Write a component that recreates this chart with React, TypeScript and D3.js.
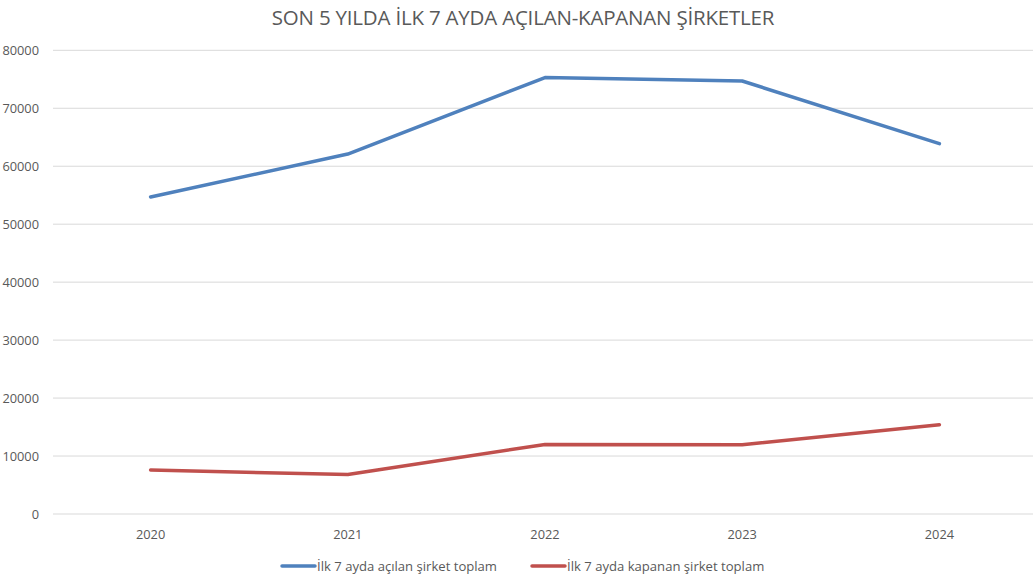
import React from "react";
import * as d3 from "d3";

const years = ["2020", "2021", "2022", "2023", "2024"];
const opened = [54700, 62100, 75300, 74700, 63900];
const closed = [7600, 6800, 12000, 11950, 15400];
const yTicks = [0, 10000, 20000, 30000, 40000, 50000, 60000, 70000, 80000];
const seriesNames = ["İlk 7 ayda açılan şirket toplam", "İlk 7 ayda kapanan şirket toplam"];
const colors = ["#4f81bd", "#c0504d"];

const W = 1033;
const H = 576;
const FONT = "'Open Sans', 'Noto Sans', sans-serif";

export default function App() {
  const x = d3.scaleBand<string>().domain(years).range([52, 1038]);
  const y = d3.scaleLinear().domain([0, 80000]).range([514, 50.3]);
  const line = d3
    .line<number>()
    .x((_, i) => (x(years[i]) as number) + x.bandwidth() / 2)
    .y((d) => y(d));
  const series = [opened, closed];
  const legendX = [282, 532];

  return (
    <svg width={W} height={H} style={{ position: "absolute", left: 0, top: 0, background: "#fff" }} fontFamily={FONT}>
      <rect width={W} height={H} fill="#fff" />
      <text x={523} y={25} textAnchor="middle" fontSize={20.5} fill="#595959" style={{ letterSpacing: "-0.2px" }}>
        SON 5 YILDA İLK 7 AYDA AÇILAN-KAPANAN ŞİRKETLER
      </text>
      {yTicks.map((t) => (
        <g key={t}>
          <line x1={53} x2={1033} y1={y(t)} y2={y(t)} stroke="#d9d9d9" strokeWidth={1} />
          <text x={39} y={y(t) + 4.5} textAnchor="end" fontSize={12.8} fill="#595959">
            {t}
          </text>
        </g>
      ))}
      {years.map((yr) => (
        <text key={yr} x={(x(yr) as number) + x.bandwidth() / 2} y={539} textAnchor="middle" fontSize={12.8} fill="#595959">
          {yr}
        </text>
      ))}
      {series.map((s, i) => (
        <path key={i} d={line(s) as string} fill="none" stroke={colors[i]} strokeWidth={3.5} strokeLinejoin="round" strokeLinecap="round" />
      ))}
      {seriesNames.map((n, i) => {
        const lx = legendX[i];
        return (
          <g key={n}>
            <line x1={lx} x2={lx + 33} y1={566} y2={566} stroke={colors[i]} strokeWidth={3.5} strokeLinecap="round" />
            <text x={lx + 35} y={570.5} fontSize={13.1} fill="#595959">
              {n}
            </text>
          </g>
        );
      })}
    </svg>
  );
}
